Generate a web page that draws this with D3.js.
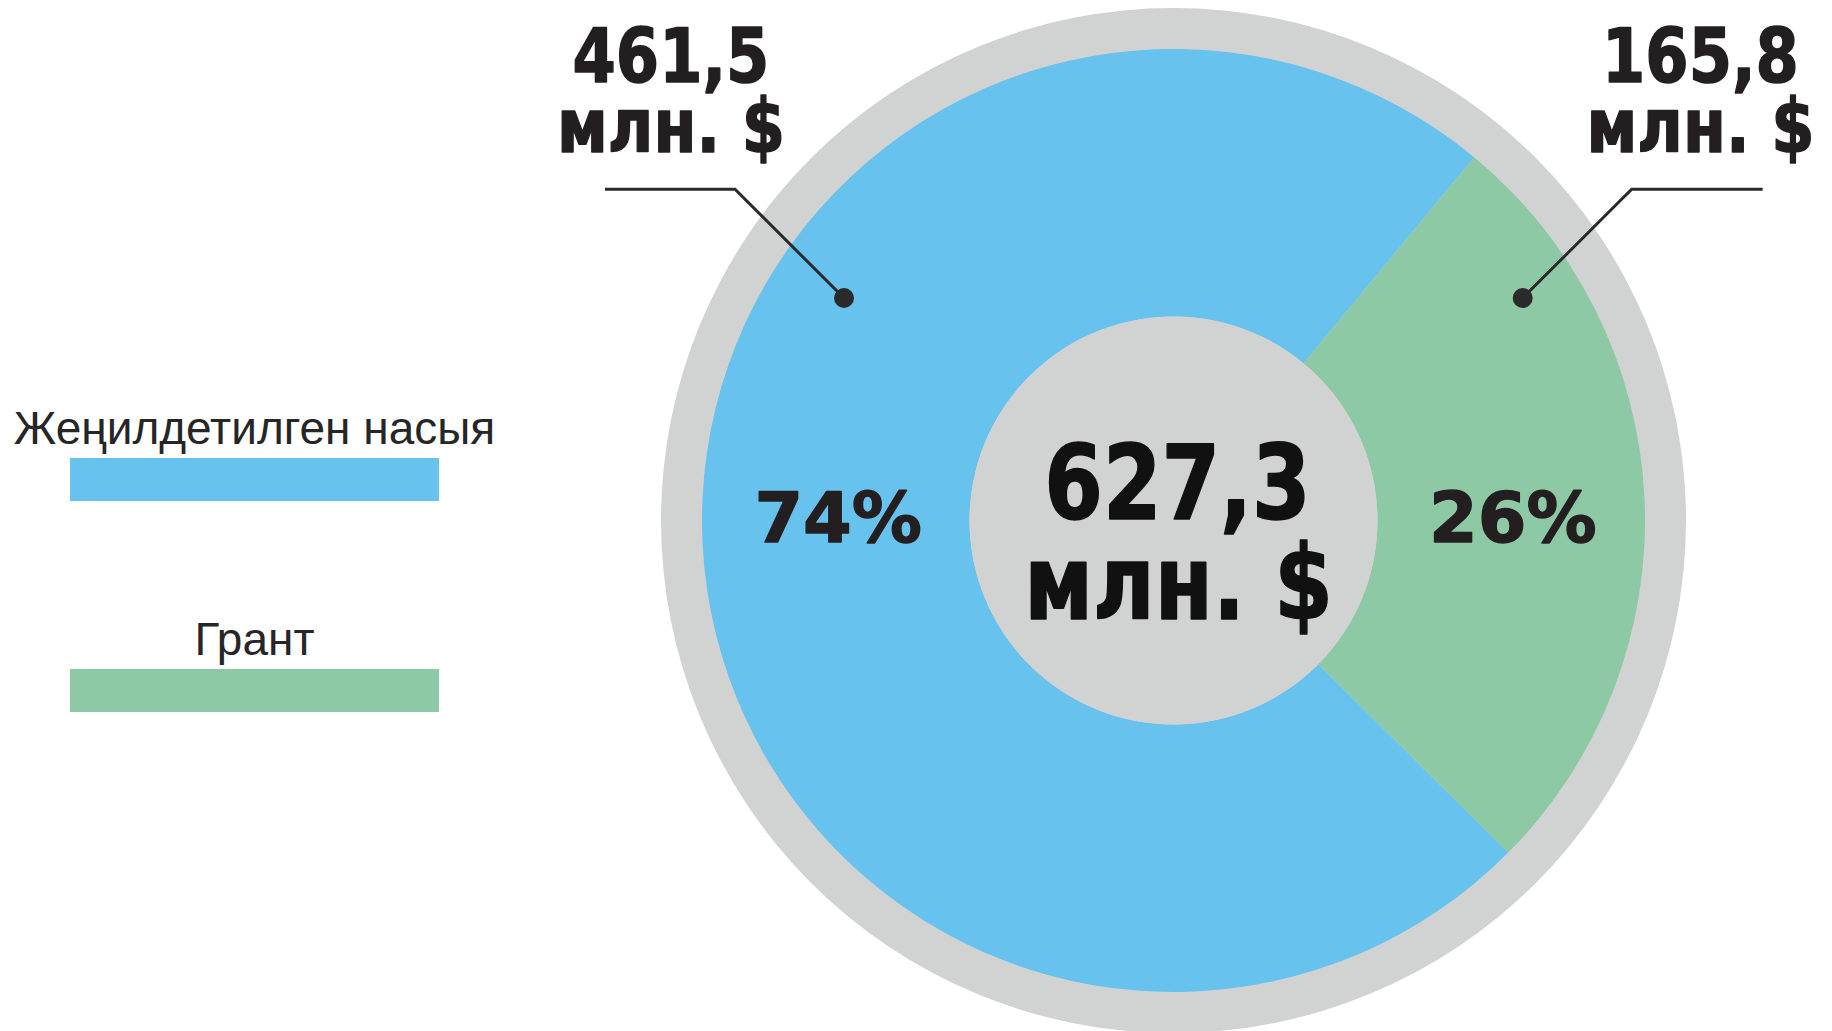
<!DOCTYPE html>
<html>
<head>
<meta charset="utf-8">
<script src="https://cdn.jsdelivr.net/npm/d3@7"></script>
<style>
  html, body { margin: 0; padding: 0; background: #fff; }
  svg { display: block; }
</style>
</head>
<body>
<div id="chart"></div>
<script>
// data
var categories = ["Жеңилдетилген насыя", "Грант"];
var values = [461.5, 165.8];
var valueLabels = ["461,5", "165,8"];
var percentLabels = ["74%", "26%"];
var totalLabel = "627,3";
var unitLabel = "млн. $";
var colors = ["#67c2ee", "#8dc9a4"];

(function(){

    var W = 1832, H = 1031;
    var cx = 1173.5, cy = 520.5;
    var ringR = 512.5, outerR = 471.5, innerR = 204;
    var gray = "#d1d3d2", ink = "#231f20";
    var numFont = "'DejaVu Sans', Verdana, sans-serif";

    var svg = d3.select("#chart").append("svg").attr("width", W).attr("height", H);
    svg.append("rect").attr("width", W).attr("height", H).attr("fill", "#fff");

    // pie rotated so the grant slice sits on the right, centred a bit above horizontal
    var total = d3.sum(values);
    var grantMid = 87.2 * Math.PI / 180;
    var start = grantMid - (values[0] + values[1] / 2) / total * 2 * Math.PI;
    var pie = d3.pie().sort(null).startAngle(start).endAngle(start + 2 * Math.PI);
    var arcs = pie(values);
    var arc = d3.arc().innerRadius(innerR).outerRadius(outerR);
    var midArc = d3.arc().innerRadius((innerR + outerR) / 2).outerRadius((innerR + outerR) / 2);

    var g = svg.append("g").attr("transform", "translate(" + cx + "," + cy + ")");

    g.append("circle").attr("r", ringR).attr("fill", gray);
    g.selectAll("path.slice").data(arcs).enter().append("path")
        .attr("class", "slice")
        .attr("d", arc)
        .attr("fill", function(d, i){ return colors[i]; });
    g.append("circle").attr("r", innerR).attr("fill", gray);

    function scaledText(parent, x, y, txt, size, sx, fill){
        parent.append("g")
            .attr("transform", "translate(" + x + "," + y + ") scale(" + sx + ",1)")
            .append("text")
            .attr("text-anchor", "middle")
            .attr("font-family", numFont)
            .attr("font-weight", "bold")
            .attr("font-size", size)
            .attr("fill", fill)
            .attr("stroke", fill)
            .attr("stroke-width", 1.6)
            .attr("stroke-linejoin", "round")
            .text(txt);
    }

    // total in the middle
    scaledText(g, 4, -2, totalLabel, 104, 0.81, "#111");
    scaledText(g, 5, 98, unitLabel, 104, 0.81, "#111");

    // percentages inside slices
    g.selectAll("text.pct").data(arcs).enter().append("text")
        .attr("class", "pct")
        .attr("x", function(d){ return midArc.centroid(d)[0] + 2; })
        .attr("y", 21)
        .attr("text-anchor", "middle")
        .attr("font-family", numFont)
        .attr("font-weight", "bold")
        .attr("font-size", 70)
        .attr("fill", ink)
        .attr("stroke", ink)
        .attr("stroke-width", 1.4)
        .attr("stroke-linejoin", "round")
        .text(function(d, i){ return percentLabels[i]; });

    // callouts: dot in slice, elbow line, value above
    var callouts = [
        {dot: [-329.5, -222.5], elbow: [-438.5, -331.2], end: [-568.5, -331.2], text: [-502.5, -438.5]},
        {dot: [349.2, -222.5], elbow: [458.2, -331.2], end: [589.2, -331.2], text: [527, -438.5]}
    ];
    callouts.forEach(function(c, i){
        g.append("polyline")
            .attr("points", [c.dot, c.elbow, c.end].map(function(p){ return p.join(","); }).join(" "))
            .attr("fill", "none")
            .attr("stroke", "#2a2a2a")
            .attr("stroke-width", 3);
        g.append("circle").attr("cx", c.dot[0]).attr("cy", c.dot[1]).attr("r", 10).attr("fill", "#2a2a2a");
        scaledText(g, c.text[0], c.text[1], valueLabels[i], 75, 0.83, ink);
        scaledText(g, c.text[0], c.text[1] + 70, unitLabel, 75, 0.83, ink);
    });

    // legend
    var legend = svg.append("g");
    var items = legend.selectAll("g").data(categories).enter().append("g")
        .attr("transform", function(d, i){ return "translate(0," + (i * 211) + ")"; });
    items.append("text")
        .attr("x", 254.5)
        .attr("y", 444)
        .attr("text-anchor", "middle")
        .attr("font-family", "'Liberation Sans', Arial, sans-serif")
        .attr("font-size", 46)
        .attr("fill", "#262626")
        .text(function(d){ return d; });
    items.append("rect")
        .attr("x", 70).attr("y", 458)
        .attr("width", 369).attr("height", 43)
        .attr("fill", function(d, i){ return colors[i]; });

})();
</script>
</body>
</html>
